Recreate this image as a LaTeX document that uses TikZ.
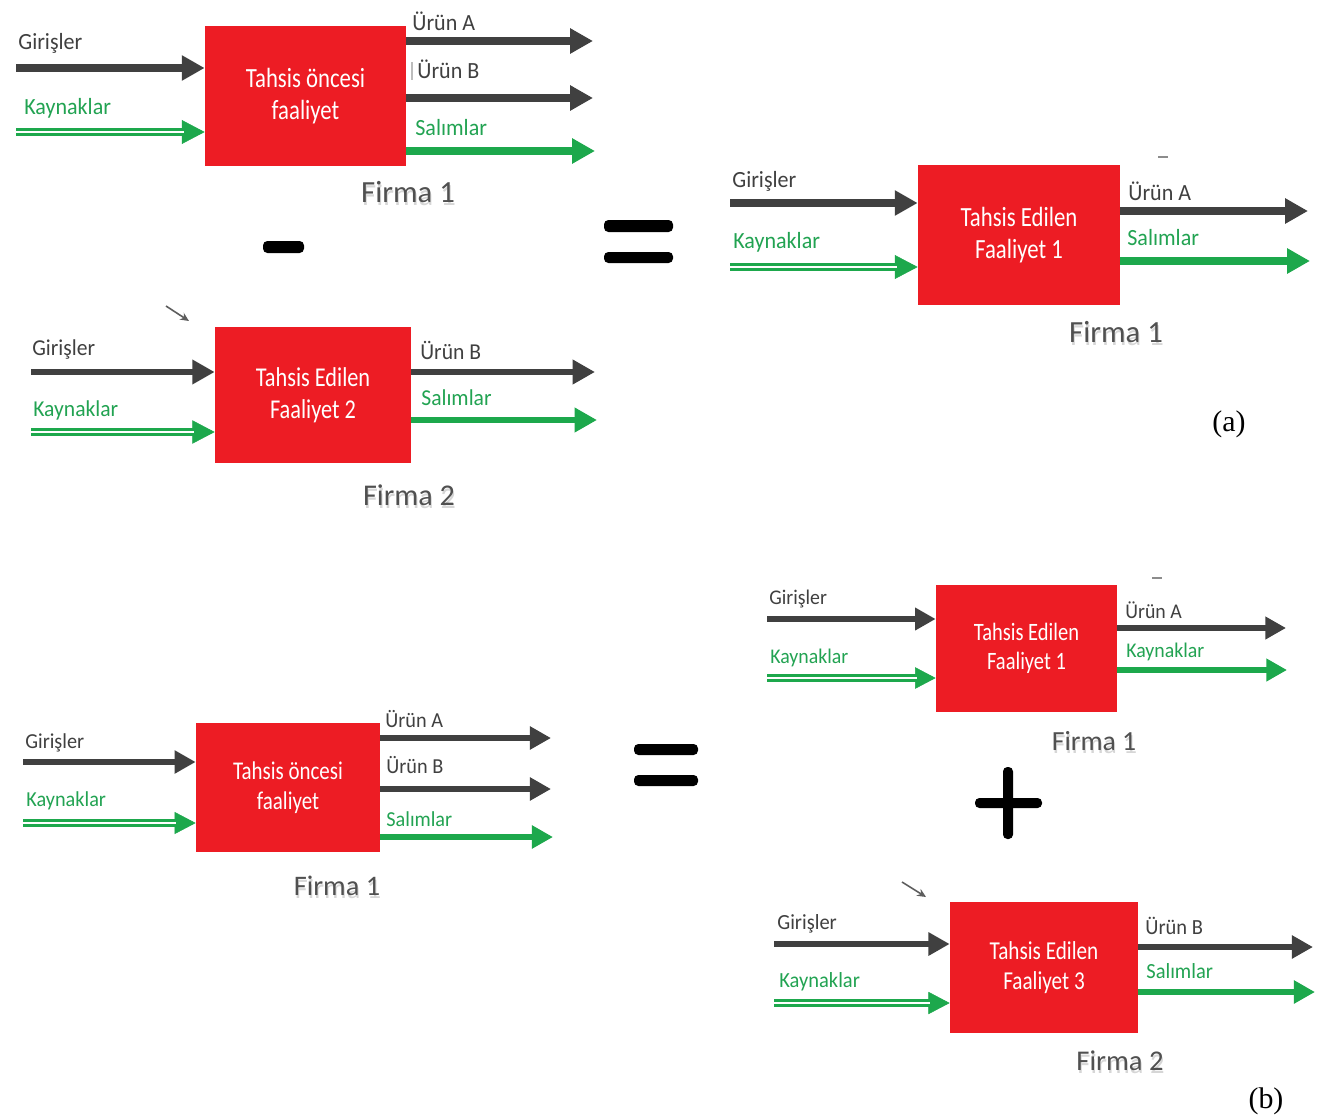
\documentclass[tikz,border=0pt]{standalone}
\usepackage{fontspec}
\setmainfont{Carlito}
\newfontfamily\lblf[FakeStretch=0.95]{Carlito}
\newfontfamily\boxf[FakeStretch=0.82]{Carlito}
\newfontfamily\serf{Liberation Serif}
\usetikzlibrary{arrows.meta}

\definecolor{cgray}{RGB}{64,64,64}
\definecolor{cgreen}{RGB}{29,168,76}
\definecolor{cgreenl}{RGB}{34,163,82}
\definecolor{cred}{RGB}{237,28,36}
\definecolor{cfirma}{RGB}{80,80,80}

% per-panel sizes (arrow widths, tips, fonts) scaled by one factor
\newcommand\setps[1]{%
  \pgfmathsetlengthmacro\lw{4pt*#1}%
  \pgfmathsetlengthmacro\hl{13pt*#1}%
  \pgfmathsetlengthmacro\hw{13.6pt*#1}%
  \pgfmathsetlengthmacro\dlw{1.5pt*#1}%
  \pgfmathsetlengthmacro\dd{1.7pt*#1}%
  \pgfmathsetlengthmacro\sh{13pt*#1-1pt}%
  \pgfmathsetlengthmacro\lsz{13.2pt*#1}%
  \pgfmathsetlengthmacro\bsz{15.8pt*#1}%
  \pgfmathsetlengthmacro\bsk{18.4pt*#1}%
  \pgfmathsetlengthmacro\fsz{17.5pt*#1}}

% activity box from its corners: name, x1, y1, x2, y2, text
\newcommand\abox[6]{%
  \node[box, minimum width={(#4-#2)*0.02cm}, minimum height={(#5-#3)*0.02cm}]
    (#1) at ({(#2+#4)/2},{(#3+#5)/2}) {#6};}

\tikzset{
  gir/.style={draw=cgray, line width=\lw, -{Triangle[length=\hl,width=\hw]}},
  sal/.style={draw=cgreen, line width=\lw, -{Triangle[length=\hl,width=\hw]}},
  kay/.style={
    postaction={draw=cgreen, line width=0.3pt, -{Triangle[length=\hl,width=\hw]}},
    postaction={draw=cgreen, line width=\dlw, double=white, double distance=\dd, shorten >=\sh}},
  lbl/.style={anchor=base west, inner sep=0pt, font=\lblf\fontsize{\lsz}{\lsz}\selectfont},
  glbl/.style={lbl, text=cgray},
  klbl/.style={lbl, text=cgreenl},
  box/.style={fill=cred, inner sep=0pt, text=white, align=center,
    font=\boxf\fontsize{\bsz}{\bsk}\selectfont},
  firma/.style={anchor=base, inner sep=0pt, text=cfirma, font=\fontsize{\fsz}{\fsz}\selectfont},
  fshadow/.style={firma, text=black!16},
  opbar/.style={fill=black, rounded corners=2.5pt},
  ptr/.style={draw=cgray!85, line width=0.9pt, -{Stealth[length=5pt,width=4.5pt]}},
  tick/.style={draw=cgray!60, line width=0.8pt},
}

\begin{document}
\begin{tikzpicture}[x=0.02cm, y=-0.02cm]
\fill[white] (0,0) rectangle (1325,1119);
\useasboundingbox (0,0) rectangle (1325,1119);

% ---------- (a) Firma 1, before allocation ----------
\begin{scope}
\setps{1}
\abox{a1}{205}{26}{406}{166}{Tahsis öncesi\\faaliyet}
\coordinate (a1g) at (16,68);
\coordinate (a1k) at (16,132);
\coordinate (a1oa) at (593,41);
\coordinate (a1ob) at (593,98);
\coordinate (a1os) at (595,151);
\draw[gir] (a1g) -- (a1g -| a1.west);
\path[kay] (a1k) -- (a1k -| a1.west);
\draw[gir] (a1oa -| a1.east) -- (a1oa);
\draw[gir] (a1ob -| a1.east) -- (a1ob);
\draw[sal] (a1os -| a1.east) -- (a1os);
\node[glbl] (a1gl) at (18,50) {Girişler};
\node[klbl] (a1kl) at (24,114) {Kaynaklar};
\node[glbl] (a1al) at (412,31) {Ürün A};
\node[glbl] (a1bl) at (417,78) {Ürün B};
\node[klbl] (a1sl) at (415,135) {Salımlar};
\coordinate (a1t1) at (412,62); \coordinate (a1t2) at (412,80);
\draw[tick, draw=cgray!35] (a1t1) -- (a1t2);
\node[fshadow] (a1fs) at (409,205) {Firma 1};
\node[firma] (a1f) at (408,202) {Firma 1};
\end{scope}

% minus and equals
\fill[opbar] (263,241) rectangle (304,253);
\fill[opbar] (604,220) rectangle (673,232);
\fill[opbar] (604,252) rectangle (673,263);

% ---------- (a) Firma 2 ----------
\begin{scope}
\setps{0.98}
\abox{a2}{215}{327}{411}{463}{Tahsis Edilen\\Faaliyet 2}
\coordinate (a2g) at (31,372);
\coordinate (a2k) at (31,432);
\coordinate (a2ob) at (595,372);
\coordinate (a2os) at (597,420);
\draw[gir] (a2g) -- (a2g -| a2.west);
\path[kay] (a2k) -- (a2k -| a2.west);
\draw[gir] (a2ob -| a2.east) -- (a2ob);
\draw[sal] (a2os -| a2.east) -- (a2os);
\node[glbl] (a2gl) at (32,355) {Girişler};
\node[klbl] (a2kl) at (33,416) {Kaynaklar};
\node[glbl] (a2bl) at (420,359) {Ürün B};
\node[klbl] (a2sl) at (421,405) {Salımlar};
\coordinate (a2m1) at (166,306); \coordinate (a2m2) at (189,321);
\draw[ptr] (a2m1) -- (a2m2);
\node[fshadow] (a2fs) at (410,508) {Firma 2};
\node[firma] (a2f) at (409,505) {Firma 2};
\end{scope}

% ---------- (a) result: Firma 1, allocated ----------
\begin{scope}
\setps{1}
\abox{a3}{918}{165}{1120}{305}{Tahsis Edilen\\Faaliyet 1}
\coordinate (a3g) at (730,203);
\coordinate (a3k) at (730,267);
\coordinate (a3oa) at (1308,211);
\coordinate (a3os) at (1310,261);
\draw[gir] (a3g) -- (a3g -| a3.west);
\path[kay] (a3k) -- (a3k -| a3.west);
\draw[gir] (a3oa -| a3.east) -- (a3oa);
\draw[sal] (a3os -| a3.east) -- (a3os);
\node[glbl] (a3gl) at (732,187) {Girişler};
\node[klbl] (a3kl) at (733,248) {Kaynaklar};
\node[glbl] (a3al) at (1128,200) {Ürün A};
\node[klbl] (a3sl) at (1127,245) {Salımlar};
\coordinate (a3t1) at (1158,157); \coordinate (a3t2) at (1168,157);
\draw[tick] (a3t1) -- (a3t2);
\node[fshadow] (a3fs) at (1117,345) {Firma 1};
\node[firma] (a3f) at (1116,342) {Firma 1};
\end{scope}
\node[font=\serf\fontsize{17pt}{17pt}\selectfont, inner sep=0pt] (lba) at (1229,424) {(a)};

% ---------- (b) Firma 1, before allocation ----------
\begin{scope}
\setps{0.92}
\abox{b1}{196}{723}{380}{852}{Tahsis öncesi\\faaliyet}
\coordinate (b1g) at (23,762);
\coordinate (b1k) at (23,823);
\coordinate (b1oa) at (551,738);
\coordinate (b1ob) at (551,789);
\coordinate (b1os) at (553,837);
\draw[gir] (b1g) -- (b1g -| b1.west);
\path[kay] (b1k) -- (b1k -| b1.west);
\draw[gir] (b1oa -| b1.east) -- (b1oa);
\draw[gir] (b1ob -| b1.east) -- (b1ob);
\draw[sal] (b1os -| b1.east) -- (b1os);
\node[glbl] (b1gl) at (25,748) {Girişler};
\node[klbl] (b1kl) at (26,806) {Kaynaklar};
\node[glbl] (b1al) at (385,727) {Ürün A};
\node[glbl] (b1bl) at (386,773) {Ürün B};
\node[klbl] (b1sl) at (386,826) {Salımlar};
\node[fshadow] (b1fs) at (338,898) {Firma 1};
\node[firma] (b1f) at (337,895) {Firma 1};
\end{scope}

% equals and plus
\fill[opbar] (634,744) rectangle (698,755);
\fill[opbar] (634,775) rectangle (698,786);
\fill[opbar] (1003,767) rectangle (1013,839);
\fill[opbar] (975,798) rectangle (1042,808);

% ---------- (b) Firma 1, allocated ----------
\begin{scope}
\setps{0.9}
\abox{b2}{936}{585}{1117}{712}{Tahsis Edilen\\Faaliyet 1}
\coordinate (b2g) at (767,619);
\coordinate (b2k) at (767,678);
\coordinate (b2oa) at (1286,628);
\coordinate (b2os) at (1287,670);
\draw[gir] (b2g) -- (b2g -| b2.west);
\path[kay] (b2k) -- (b2k -| b2.west);
\draw[gir] (b2oa -| b2.east) -- (b2oa);
\draw[sal] (b2os -| b2.east) -- (b2os);
\node[glbl] (b2gl) at (769,604) {Girişler};
\node[klbl] (b2kl) at (770,663) {Kaynaklar};
\node[glbl] (b2al) at (1125,618) {Ürün A};
\node[klbl] (b2sl) at (1126,657) {Kaynaklar};
\coordinate (b2t1) at (1152,578); \coordinate (b2t2) at (1162,578);
\draw[tick] (b2t1) -- (b2t2);
\node[fshadow] (b2fs) at (1095,753) {Firma 1};
\node[firma] (b2f) at (1094,750) {Firma 1};
\end{scope}

% ---------- (b) Firma 2, allocated ----------
\begin{scope}
\setps{0.93}
\abox{b3}{950}{902}{1138}{1033}{Tahsis Edilen\\Faaliyet 3}
\coordinate (b3g) at (774,944);
\coordinate (b3k) at (774,1003);
\coordinate (b3ob) at (1313,947);
\coordinate (b3os) at (1315,992);
\draw[gir] (b3g) -- (b3g -| b3.west);
\path[kay] (b3k) -- (b3k -| b3.west);
\draw[gir] (b3ob -| b3.east) -- (b3ob);
\draw[sal] (b3os -| b3.east) -- (b3os);
\node[glbl] (b3gl) at (777,929) {Girişler};
\node[klbl] (b3kl) at (779,987) {Kaynaklar};
\node[glbl] (b3bl) at (1145,934) {Ürün B};
\node[klbl] (b3sl) at (1146,978) {Salımlar};
\coordinate (b3m1) at (902,882); \coordinate (b3m2) at (926,897);
\draw[ptr] (b3m1) -- (b3m2);
\node[fshadow] (b3fs) at (1121,1073) {Firma 2};
\node[firma] (b3f) at (1120,1070) {Firma 2};
\end{scope}
\node[font=\serf\fontsize{17pt}{17pt}\selectfont, inner sep=0pt] (lbb) at (1266,1101) {(b)};
\end{tikzpicture}
\end{document}
